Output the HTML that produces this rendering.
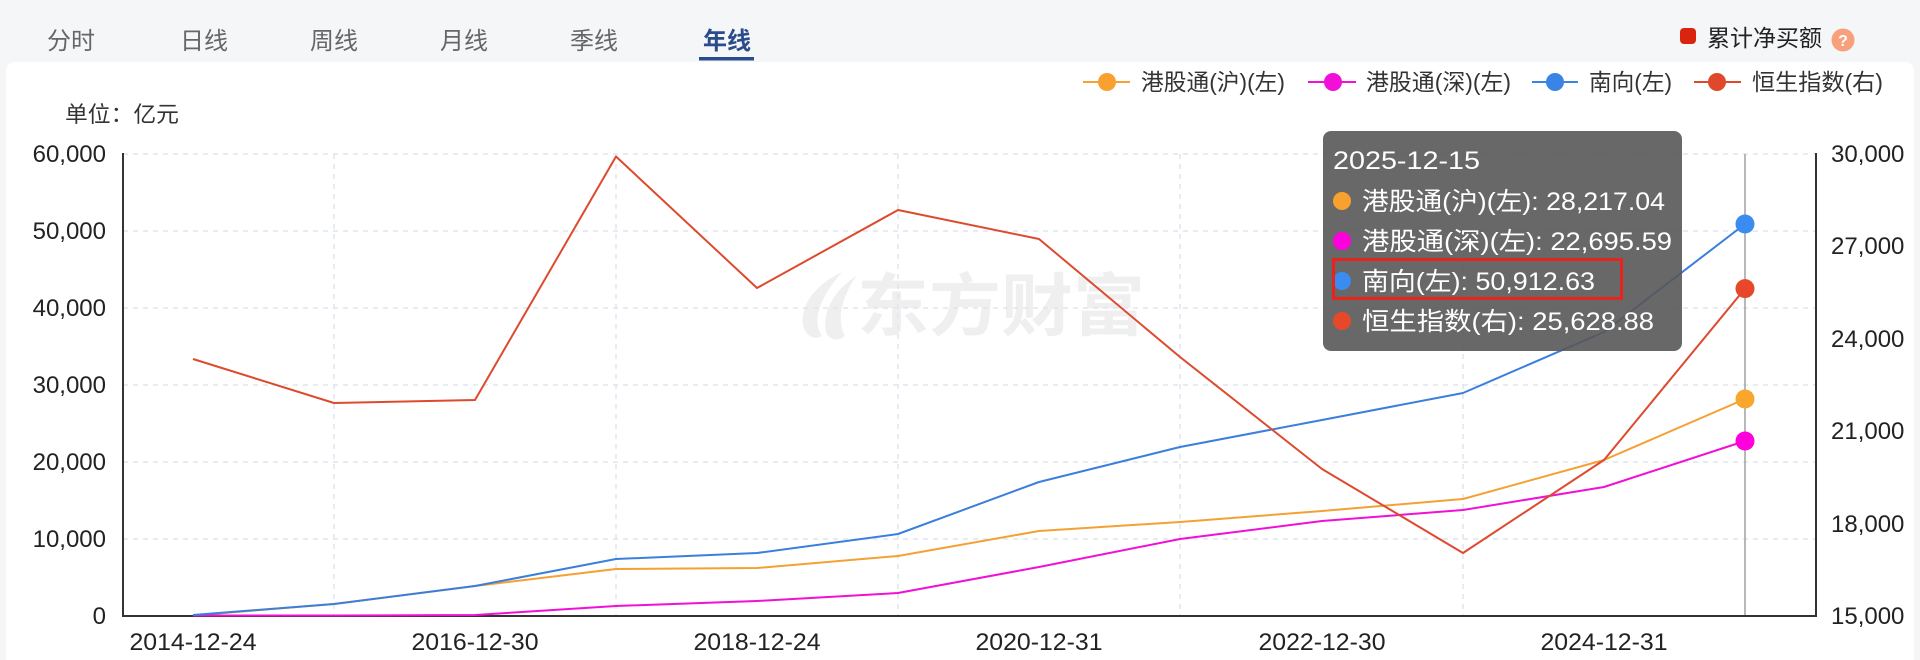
<!DOCTYPE html>
<html>
<head>
<meta charset="utf-8">
<style>
  html, body { margin: 0; padding: 0; width: 1920px; height: 660px; overflow: hidden; background: #f5f6f8; }
  svg { display: block; }
  text { font-family: "Liberation Sans", "Noto Sans CJK SC", sans-serif; }
</style>
</head>
<body>
<svg width="1920" height="660" viewBox="0 0 1920 660" xmlns="http://www.w3.org/2000/svg">
  <!-- background -->
  <rect x="0" y="0" width="1920" height="660" fill="#f5f6f8"/>
  <path d="M6 72 Q6 62 16 62 L1904 62 Q1914 62 1914 72 L1914 660 L6 660 Z" fill="#ffffff"/>

  <!-- tabs -->
  <g font-size="24" fill="#666666" text-anchor="middle">
    <text x="71" y="49">分时</text>
    <text x="204" y="49">日线</text>
    <text x="334" y="49">周线</text>
    <text x="464" y="49">月线</text>
    <text x="594" y="49">季线</text>
    <text x="727" y="49" fill="#2b4c8c" font-weight="bold">年线</text>
  </g>
  <rect x="699" y="57" width="55" height="3.5" fill="#2b4c8c"/>

  <!-- top right -->
  <rect x="1680" y="28" width="16" height="16" rx="4" fill="#d9250f"/>
  <text x="1707" y="46" font-size="23" fill="#222222" textLength="115" lengthAdjust="spacingAndGlyphs">累计净买额</text>
  <circle cx="1843" cy="40" r="11.5" fill="#f8a07c"/>
  <text x="1843" y="46" font-size="16" font-weight="bold" fill="#ffffff" text-anchor="middle">?</text>

  <!-- legend -->
  <g stroke-width="2">
    <line x1="1083" y1="82" x2="1130" y2="82" stroke="#f9a12f"/>
    <circle cx="1107" cy="82" r="9" fill="#f9a12f" stroke="none"/>
    <line x1="1308" y1="82" x2="1356" y2="82" stroke="#f20fd8"/>
    <circle cx="1333" cy="82" r="9" fill="#f20fd8" stroke="none"/>
    <line x1="1532" y1="82" x2="1578" y2="82" stroke="#3a84e6"/>
    <circle cx="1555" cy="82" r="9" fill="#3a84e6" stroke="none"/>
    <line x1="1694" y1="82" x2="1741" y2="82" stroke="#e0482c"/>
    <circle cx="1717" cy="82" r="9" fill="#e0482c" stroke="none"/>
  </g>
  <g font-size="23" fill="#333333">
    <text x="1141" y="90" textLength="144" lengthAdjust="spacingAndGlyphs">港股通(沪)(左)</text>
    <text x="1366" y="90" textLength="145" lengthAdjust="spacingAndGlyphs">港股通(深)(左)</text>
    <text x="1589" y="90" textLength="83" lengthAdjust="spacingAndGlyphs">南向(左)</text>
    <text x="1752" y="90" textLength="131" lengthAdjust="spacingAndGlyphs">恒生指数(右)</text>
  </g>

  <!-- unit -->
  <text x="65" y="122" font-size="22" fill="#333333" textLength="114" lengthAdjust="spacingAndGlyphs">单位：亿元</text>

  <!-- watermark -->
  <g fill="#efefef">
    <path d="M842 272 C815 285 800 305 803 325 C806 337 815 340 822 336 C812 322 818 300 842 272 Z"/>
    <path d="M856 276 C832 292 822 314 826 332 C829 340 838 342 845 336 C836 318 842 298 856 276 Z"/>
  </g>
  <text x="857" y="330" font-size="68" font-weight="bold" fill="#efefef" textLength="288" lengthAdjust="spacingAndGlyphs">东方财富</text>

  <!-- grid -->
  <g stroke="#dfe5ee" stroke-width="1.5" stroke-dasharray="5 5" fill="none">
    <line x1="123" y1="154" x2="1816" y2="154"/>
    <line x1="123" y1="231" x2="1816" y2="231"/>
    <line x1="123" y1="308" x2="1816" y2="308"/>
    <line x1="123" y1="385" x2="1816" y2="385"/>
    <line x1="123" y1="462" x2="1816" y2="462"/>
    <line x1="123" y1="539" x2="1816" y2="539"/>
    <line x1="334" y1="154" x2="334" y2="616"/>
    <line x1="616" y1="154" x2="616" y2="616"/>
    <line x1="898" y1="154" x2="898" y2="616"/>
    <line x1="1180" y1="154" x2="1180" y2="616"/>
    <line x1="1463" y1="154" x2="1463" y2="616"/>
  </g>

  <!-- axis pointer -->
  <line x1="1745" y1="154" x2="1745" y2="616" stroke="#a0a0a0" stroke-width="1.5"/>

  <!-- axes -->
  <g stroke="#333333" stroke-width="2">
    <line x1="123" y1="153" x2="123" y2="617"/>
    <line x1="1816" y1="153" x2="1816" y2="617"/>
    <line x1="122" y1="616" x2="1817" y2="616"/>
  </g>

  <!-- left labels -->
  <g font-size="24" fill="#222222" text-anchor="end">
    <text x="106" y="162">60,000</text>
    <text x="106" y="239">50,000</text>
    <text x="106" y="316">40,000</text>
    <text x="106" y="393">30,000</text>
    <text x="106" y="470">20,000</text>
    <text x="106" y="547">10,000</text>
    <text x="106" y="624">0</text>
  </g>
  <!-- right labels -->
  <g font-size="24" fill="#222222">
    <text x="1831" y="162">30,000</text>
    <text x="1831" y="254">27,000</text>
    <text x="1831" y="347">24,000</text>
    <text x="1831" y="439">21,000</text>
    <text x="1831" y="532">18,000</text>
    <text x="1831" y="624">15,000</text>
  </g>
  <!-- x labels -->
  <g font-size="24" fill="#222222" text-anchor="middle">
    <text x="193" y="650" textLength="127" lengthAdjust="spacingAndGlyphs">2014-12-24</text>
    <text x="475" y="650" textLength="127" lengthAdjust="spacingAndGlyphs">2016-12-30</text>
    <text x="757" y="650" textLength="127" lengthAdjust="spacingAndGlyphs">2018-12-24</text>
    <text x="1039" y="650" textLength="127" lengthAdjust="spacingAndGlyphs">2020-12-31</text>
    <text x="1322" y="650" textLength="127" lengthAdjust="spacingAndGlyphs">2022-12-30</text>
    <text x="1604" y="650" textLength="127" lengthAdjust="spacingAndGlyphs">2024-12-31</text>
  </g>

  <!-- series -->
  <g fill="none" stroke-width="2" stroke-linejoin="round">
    <polyline stroke="#f5a033" points="193,615.5 334,604 475,586 616,569 757,568 898,556 1039,531 1180,522 1322,511 1463,499 1604,460 1745,399"/>
    <polyline stroke="#f010d6" points="193,615.5 334,615.5 475,615 616,606 757,601 898,593 1039,567 1180,539 1322,521 1463,510 1604,487 1745,441"/>
    <polyline stroke="#3b7fdc" points="193,615 334,604 475,586 616,559 757,553 898,534 1039,482 1180,447 1322,420 1463,393 1604,332 1745,224"/>
    <polyline stroke="#dd4a2e" points="193,359 334,403 475,400 616,156.5 757,288 898,210 1039,239 1180,357 1322,469 1463,553 1604,460 1745,288.6"/>
  </g>
  <circle cx="1745" cy="399" r="9.5" fill="#f8a62c"/>
  <circle cx="1745" cy="441" r="9.5" fill="#ff00dd"/>
  <circle cx="1745" cy="224" r="9.5" fill="#3a8cf0"/>
  <circle cx="1745" cy="288.6" r="9.5" fill="#e8482a"/>

  <!-- tooltip -->
  <rect x="1323" y="131" width="359" height="220" rx="8" fill="rgba(88,88,88,0.9)"/>
  <g font-size="25" fill="#ffffff">
    <text x="1333" y="169" textLength="147" lengthAdjust="spacingAndGlyphs">2025-12-15</text>
    <text x="1362" y="210" textLength="303" lengthAdjust="spacingAndGlyphs">港股通(沪)(左): 28,217.04</text>
    <text x="1362" y="250" textLength="310" lengthAdjust="spacingAndGlyphs">港股通(深)(左): 22,695.59</text>
    <text x="1362" y="290" textLength="233" lengthAdjust="spacingAndGlyphs">南向(左): 50,912.63</text>
    <text x="1362" y="330" textLength="292" lengthAdjust="spacingAndGlyphs">恒生指数(右): 25,628.88</text>
  </g>
  <circle cx="1342" cy="201" r="9" fill="#f9a12f"/>
  <circle cx="1342" cy="241" r="9" fill="#ff00dd"/>
  <circle cx="1342" cy="281" r="9" fill="#3a8cf0"/>
  <circle cx="1342" cy="321" r="9" fill="#e8482a"/>
  <rect x="1333.5" y="259.5" width="288" height="39" fill="none" stroke="#e8231d" stroke-width="3"/>
</svg>
</body>
</html>
